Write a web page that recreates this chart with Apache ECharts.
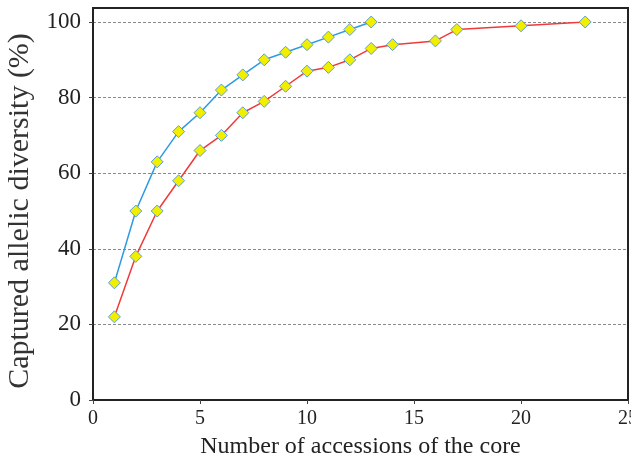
<!DOCTYPE html>
<html><head><meta charset="utf-8">
<script src="https://cdn.jsdelivr.net/npm/echarts@6/dist/echarts.min.js"></script>
<style>html,body{margin:0;padding:0;background:#fff}#c{width:631px;height:459px}</style>
</head><body><div id="c"></div>
<script>
const xBlue = [1,2,3,4,5,6,7,8,9,10,11,12,13];
const yBlue = [31,50,63,71,76,82,86,90,92,94,96,98,100];
const xRed = [1,2,3,4,5,6,7,8,9,10,11,12,13,14,16,17,20,23];
const yRed = [22,38,50,58,66,70,76,79,83,87,88,90,93,94,95,98,99,100];
const xTicks = [0,5,10,15,20,25];
const yTicks = [0,20,40,60,80,100];

const font = '"Liberation Serif","Times New Roman",serif';
const chart = echarts.init(document.getElementById('c'), null, {renderer:'canvas'});
const marker = {color:'#f2ee00', borderColor:'#5aa0d8', borderWidth:1};
chart.setOption({
  animation:false,
  backgroundColor:'#fff',
  grid:{left:93, right:3, top:22, bottom:59, containLabel:false, outerBoundsMode:'none'},
  xAxis:{type:'value', min:xTicks[0], max:xTicks[xTicks.length-1], interval:5,
    name:'Number of accessions of the core', nameLocation:'middle', nameGap:35,
    nameTextStyle:{fontFamily:font, fontSize:24, color:'#222'},
    axisLine:{lineStyle:{color:'#222', width:2}},
    axisTick:{show:true, length:4, lineStyle:{color:'#444'}},
    axisLabel:{fontFamily:font, fontSize:20, color:'#222', margin:9, hideOverlap:false, showMaxLabel:true},
    splitLine:{show:false}},
  yAxis:{type:'value', min:yTicks[0], max:yTicks[yTicks.length-1], interval:20,
    name:'Captured allelic diversity (%)', nameLocation:'middle', nameGap:49,
    nameTextStyle:{fontFamily:font, fontSize:30, color:'#333'},
    axisLine:{show:true, lineStyle:{color:'#222', width:2}},
    axisTick:{show:true, length:4, lineStyle:{color:'#444'}},
    axisLabel:{fontFamily:font, fontSize:23, color:'#222', margin:12},
    splitLine:{show:true, lineStyle:{color:'#8a8a8a', type:[3,2], width:1}}},
  graphic:[{type:'rect', shape:{x:93, y:8, width:535, height:392}, style:{fill:'none', stroke:'#222', lineWidth:2}, silent:true, z:-1}],
  series:[
    {type:'line', data:xBlue.map((x,i)=>[x,yBlue[i]]), symbol:'diamond', symbolSize:12,
     lineStyle:{color:'#2e9be0', width:1.5}, itemStyle:marker, z:3},
    {type:'line', data:xRed.map((x,i)=>[x,yRed[i]]), symbol:'diamond', symbolSize:12,
     lineStyle:{color:'#f03a3a', width:1.5}, itemStyle:marker, z:2}
  ]
});
</script></body></html>
